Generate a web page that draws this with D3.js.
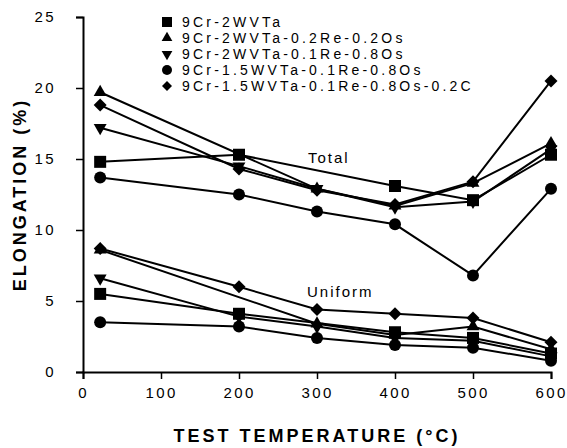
<!DOCTYPE html>
<html>
<head>
<meta charset="utf-8">
<script src="https://cdn.jsdelivr.net/npm/d3@7"></script>
<style>
  body { margin: 0; background: #fff; }
  svg { display: block; }
  text { font-family: "Liberation Sans", Arial, sans-serif; fill: #000; }
</style>
</head>
<body>
<div id="chart"></div>
<script>
/* Test temperatures (first one is room temperature) */
const temps = [22, 200, 300, 400, 500, 600];

const alloys = [
  "9Cr-2WVTa",
  "9Cr-2WVTa-0.2Re-0.2Os",
  "9Cr-2WVTa-0.1Re-0.8Os",
  "9Cr-1.5WVTa-0.1Re-0.8Os",
  "9Cr-1.5WVTa-0.1Re-0.8Os-0.2C"
];
const shapes = ["square", "triUp", "triDown", "circle", "diamond"];

/* Total elongation (%), null = not tested */
const totalSquare  = [14.8, 15.3, null, 13.1, 12.1, 15.3];
const totalTriUp   = [19.7, null, 12.9, 11.7, 13.3, 16.1];
const totalTriDown = [17.2, 14.5, 12.9, 11.6, 12.0, 15.7];
const totalCircle  = [13.7, 12.5, 11.3, 10.4, 6.8, 12.9];
const totalDiamond = [18.8, 14.3, 12.8, 11.8, 13.4, 20.5];

/* Uniform elongation (%) */
const uniSquare  = [5.5, 4.1, null, 2.8, 2.4, 1.3];
const uniTriUp   = [8.6, null, 3.4, 2.6, 3.2, 1.6];
const uniTriDown = [6.6, 3.9, 3.2, 2.4, 2.2, 1.1];
const uniCircle  = [3.5, 3.2, 2.4, 1.9, 1.7, 0.8];
const uniDiamond = [8.7, 6.0, 4.4, 4.1, 3.8, 2.1];

const xTicks = [0, 100, 200, 300, 400, 500, 600];
const yTicks = [0, 5, 10, 15, 20, 25];

const width = 567;
const height = 448;
const margin = { top: 17, right: 16, bottom: 76, left: 83 };

const svg = d3.select("#chart")
  .append("svg")
  .attr("width", width)
  .attr("height", height);

const x = d3.scaleLinear()
  .domain([0, 600])
  .range([margin.left, width - margin.right]);

const y = d3.scaleLinear()
  .domain([0, 25])
  .range([height - margin.bottom, margin.top]);

/* symbol path for each marker type */
function markerPath(shape, s) {
  if (shape === "square") return d3.symbol(d3.symbolSquare, s * s)();
  if (shape === "circle") return d3.symbol(d3.symbolCircle, Math.PI * (s / 2) * (s / 2))();
  if (shape === "triUp" || shape === "triDown") return d3.symbol(d3.symbolTriangle, s * s * 0.5)();
  return d3.symbol(d3.symbolSquare, s * s / 2)();
}
function markerRotate(shape) {
  if (shape === "triDown") return 180;
  if (shape === "diamond") return 45;
  return 0;
}

const totalSeries = [totalSquare, totalTriUp, totalTriDown, totalCircle, totalDiamond];
const uniSeries = [uniSquare, uniTriUp, uniTriDown, uniCircle, uniDiamond];

const line = d3.line()
  .x(d => x(d.t))
  .y(d => y(d.v));

const plot = svg.append("g");

function drawGroup(seriesList) {
  seriesList.forEach((vals, i) => {
    const pts = temps.map((t, j) => ({ t: t, v: vals[j] }))
      .filter(d => d.v !== null);

    plot.append("path")
      .datum(pts)
      .attr("fill", "none")
      .attr("stroke", "#000")
      .attr("stroke-width", 2)
      .attr("d", line);

    plot.selectAll(null)
      .data(pts)
      .join("path")
        .attr("d", markerPath(shapes[i], shapes[i] === "diamond" ? 13 : 12))
        .attr("transform", d => `translate(${x(d.t)},${y(d.v)}) rotate(${markerRotate(shapes[i])})`)
        .attr("fill", "#000");
  });
}

drawGroup(totalSeries);
drawGroup(uniSeries);

/* axes */
const xAxis = d3.axisBottom(x)
  .tickValues(xTicks)
  .tickSize(7)
  .tickPadding(8);

const yAxis = d3.axisLeft(y)
  .tickValues(yTicks)
  .tickSize(7)
  .tickPadding(20);

const gx = svg.append("g")
  .attr("transform", `translate(0,${height - margin.bottom})`)
  .call(xAxis);

const gy = svg.append("g")
  .attr("transform", `translate(${margin.left},0)`)
  .call(yAxis);

[gx, gy].forEach(g => {
  g.select(".domain").attr("stroke", "#000").attr("stroke-width", 2);
  g.selectAll(".tick line").attr("stroke", "#000").attr("stroke-width", 1.5);
  g.selectAll(".tick text")
    .attr("font-family", "Liberation Sans, Arial, sans-serif")
    .attr("font-size", 15)
    .attr("letter-spacing", 2.4)
    .attr("fill", "#000");
});

/* axis titles */
svg.append("text")
  .attr("x", (margin.left + width - margin.right) / 2)
  .attr("y", 442)
  .attr("text-anchor", "middle")
  .attr("font-size", 18)
  .attr("font-weight", "bold")
  .attr("letter-spacing", 3)
  .text("TEST TEMPERATURE (°C)");

svg.append("text")
  .attr("transform", `translate(26,${(margin.top + height - margin.bottom) / 2}) rotate(-90)`)
  .attr("text-anchor", "middle")
  .attr("font-size", 18)
  .attr("font-weight", "bold")
  .attr("letter-spacing", 3)
  .text("ELONGATION (%)");

/* group labels */
svg.append("text")
  .attr("x", 308)
  .attr("y", 163)
  .attr("font-size", 15)
  .attr("letter-spacing", 2)
  .text("Total");

svg.append("text")
  .attr("x", 307)
  .attr("y", 297)
  .attr("font-size", 15)
  .attr("letter-spacing", 2)
  .text("Uniform");

/* legend */
const legendY = [22, 38, 54, 70, 86];
const legend = svg.append("g");

alloys.forEach((name, i) => {
  legend.append("path")
    .attr("d", markerPath(shapes[i], 10))
    .attr("transform", `translate(167,${legendY[i]}) rotate(${markerRotate(shapes[i])})`)
    .attr("fill", "#000");

  legend.append("text")
    .attr("x", 182)
    .attr("y", legendY[i] + 5)
    .attr("font-size", 14)
    .attr("letter-spacing", 3.2)
    .text(name);
});
</script>
</body>
</html>
